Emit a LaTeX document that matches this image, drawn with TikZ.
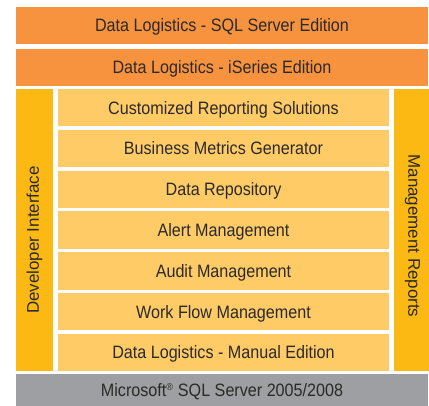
\documentclass[tikz,border=0pt]{standalone}
\usepackage{fontspec}
\setmainfont{Liberation Sans}[FakeStretch=0.9]
\newfontfamily\sidefont{Liberation Sans}
\definecolor{orangebar}{HTML}{F7923E}
\definecolor{lightbox}{HTML}{FECB66}
\definecolor{sidebar}{HTML}{FDB913}
\definecolor{graybar}{HTML}{9D9FA2}
\definecolor{txt}{HTML}{2B2A29}
\tikzset{
  block/.style={inner sep=0pt, outer sep=0pt, anchor=north west, text=txt,
    text height=12.9bp, text depth=0pt,
    font=\fontsize{18}{21}\selectfont},
  wide/.style={block, fill=orangebar, minimum width=412bp, minimum height=37bp},
  inner/.style={block, fill=lightbox, minimum width=331bp, minimum height=37.3bp},
  sidebox/.style={inner sep=0pt, outer sep=0pt, anchor=north west, fill=sidebar,
    minimum width=37bp, minimum height=282bp},
  sidetext/.style={inner sep=0pt, outer sep=0pt, text=txt,
    font=\sidefont\fontsize{17}{19}\selectfont},
}
\begin{document}
\begin{tikzpicture}[x=1bp,y=-1bp]
\useasboundingbox (0,0) rectangle (429,406);
\node[wide] (sql) at (16,7) {Data Logistics - SQL Server Edition};
\node[wide] (iser) at (16,49) {Data Logistics - iSeries Edition};
\node[inner] (b1) at (58,89) {Customized Reporting Solutions};
\node[inner] (b2) at (58,129.8) {Business Metrics Generator};
\node[inner] (b3) at (58,170.6) {Data Repository};
\node[inner] (b4) at (58,211.4) {Alert Management};
\node[inner] (b5) at (58,252.2) {Audit Management};
\node[inner] (b6) at (58,293.0) {Work Flow Management};
\node[inner] (b7) at (58,333.8) {Data Logistics - Manual Edition};
\node[sidebox] (devbox) at (16,89) {};
\node[sidebox] (mgmtbox) at (394,89) {};
\node[sidetext, rotate=90] (dev) at ([yshift=-10bp]devbox.center) {Developer Interface};
\node[sidetext, rotate=-90] (mgmt) at ([yshift=-6bp]mgmtbox.center) {Management Reports};
\node[block, fill=graybar, minimum width=412bp, minimum height=32bp] (ms) at (16,374)
  {Microsoft\textsuperscript{\normalfont\fontsize{10}{10}\selectfont ®} SQL Server 2005/2008};
\end{tikzpicture}
\end{document}
